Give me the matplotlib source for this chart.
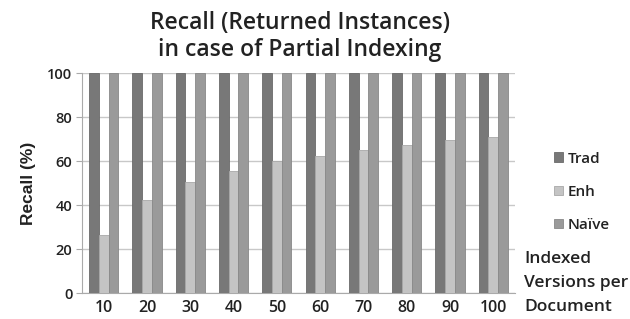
import matplotlib.pyplot as plt
import numpy as np

# data
versions = ["10", "20", "30", "40", "50", "60", "70", "80", "90", "100"]
trad = [100, 100, 100, 100, 100, 100, 100, 100, 100, 100]
enh = [26.7, 42.3, 50.5, 55.5, 60.0, 62.5, 65.0, 67.3, 69.5, 71.2]
naive = [100, 100, 100, 100, 100, 100, 100, 100, 100, 100]
series_names = ["Trad", "Enh", "Naïve"]

colors = ["#787878", "#c4c4c4", "#9a9a9a"]
edges = ["#6a6a6a", "#a8a8a8", "#888888"]

fig = plt.figure(figsize=(6.3, 3.19), dpi=100)
ax = fig.add_axes([82 / 630, 1 - 293.3 / 319, 433 / 630, 220 / 319])

x = np.arange(len(versions))
w = 0.225
for k, vals in enumerate([trad, enh, naive]):
    ax.bar(x + (k - 1) * w, vals, width=w, color=colors[k],
           edgecolor=edges[k], linewidth=0.6, label=series_names[k], zorder=3)

ax.set_xlim(-0.5, len(versions) - 0.5)
ax.set_ylim(0, 100)
ax.set_yticks(range(0, 101, 20))
ax.set_xticks(x)
ax.set_xticklabels(versions, fontfamily="Open Sans", fontsize=11.5,
                   fontweight="semibold", color="#222222")
for lab in ax.get_yticklabels():
    lab.set_fontfamily("Open Sans")
    lab.set_fontweight("semibold")
    lab.set_fontsize(10.5)
    lab.set_color("#222222")
ax.tick_params(axis="y", length=4, color="#aaaaaa", pad=3)
ax.tick_params(axis="x", length=0, pad=5)
ax.grid(axis="y", color="#c8c8c8", linewidth=1, zorder=0)
for s in ["top", "right"]:
    ax.spines[s].set_visible(False)
ax.spines["left"].set_color("#aaaaaa")
ax.spines["bottom"].set_color("#aaaaaa")

ax.set_ylabel("Recall (%)", fontfamily="Liberation Sans", fontweight="bold",
              fontsize=12.5, labelpad=8, color="#222222")

fig.text(300 / 630, 1 - 23 / 319, "Recall (Returned Instances)", ha="center",
         va="center", fontfamily="Open Sans", fontsize=16.5,
         fontweight="semibold", color="#222222")
fig.text(300 / 630, 1 - 50 / 319, "in case of Partial Indexing", ha="center",
         va="center", fontfamily="Open Sans", fontsize=16.5,
         fontweight="semibold", color="#222222")

leg = ax.legend(loc="upper left", bbox_to_anchor=(546 / 630, 1 - 144 / 319),
                bbox_transform=fig.transFigure, frameon=False,
                prop={"family": "Open Sans", "size": 11, "weight": "semibold"},
                handlelength=0.6, handleheight=0.6, handletextpad=0.3,
                labelspacing=1.25, borderpad=0)
for t in leg.get_texts():
    t.set_color("#222222")

fig.text(524 / 630, 1 - 259 / 319, "Indexed", ha="left", va="center",
         fontfamily="Open Sans", fontsize=12.5, fontweight="semibold",
         color="#222222")
fig.text(524 / 630, 1 - 283 / 319, "Versions per", ha="left", va="center",
         fontfamily="Open Sans", fontsize=12.5, fontweight="semibold",
         color="#222222")
fig.text(524 / 630, 1 - 307 / 319, "Document", ha="left", va="center",
         fontfamily="Open Sans", fontsize=12.5, fontweight="semibold",
         color="#222222")

fig.savefig("out.png", dpi=100)
